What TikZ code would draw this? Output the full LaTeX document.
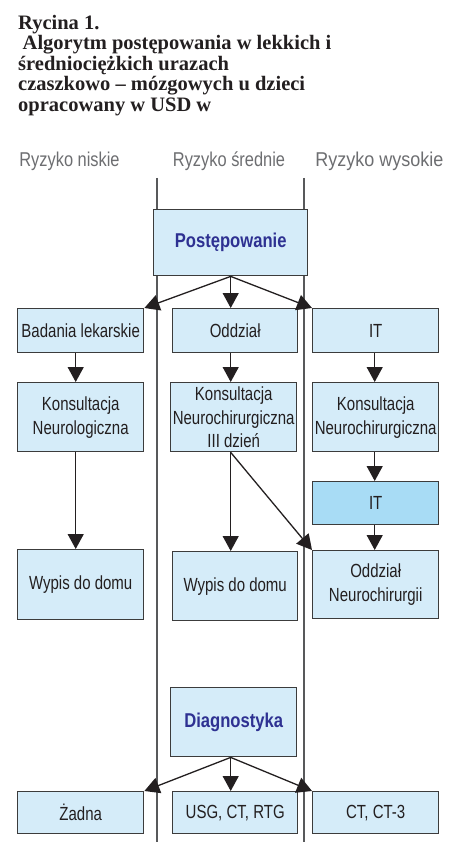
\documentclass[tikz,border=0pt]{standalone}
\usepackage{fontspec}
\setmainfont{Liberation Serif}
\newfontfamily\boxfont[FakeStretch=0.79]{Liberation Sans}
\newfontfamily\hdrfont[FakeStretch=0.82]{Liberation Sans}
\newfontfamily\hdrwidefont[FakeStretch=0.9]{Liberation Sans}
\newfontfamily\boldboxfont[FakeStretch=0.83]{Liberation Sans}
\usetikzlibrary{arrows.meta}
\definecolor{boxfill}{HTML}{D5ECF9}
\definecolor{boxfilldark}{HTML}{A8DCF5}
\definecolor{boxline}{HTML}{3C3C3C}
\definecolor{txt}{HTML}{231F20}
\definecolor{headblue}{HTML}{2E3192}
\definecolor{lanegray}{HTML}{58595B}
\definecolor{hdrgray}{HTML}{6D6E71}
\tikzset{
  box/.style={draw=boxline, line width=1.4pt, fill=boxfill, inner sep=0pt,
    anchor=north west, align=center, text=txt,
    font=\boxfont\fontsize{19}{24}\selectfont},
  headbox/.style={box, text=headblue, font=\boldboxfont\bfseries\fontsize{20}{24}\selectfont},
  conn/.style={draw=txt, line width=1.3pt, -{Triangle[length=15pt,width=16pt]}},
  lane/.style={draw=lanegray, line width=2pt},
  titleline/.style={anchor=base west, inner sep=0pt, text=txt,
    font=\bfseries\fontsize{20.5}{20.5}\selectfont},
  riskhdr/.style={anchor=base, inner sep=0pt, text=hdrgray,
    font=\hdrfont\fontsize{20}{24}\selectfont}
}
\begin{document}
\begin{tikzpicture}[x=1pt,y=-1pt]
\fill[white] (0,0) rectangle (452,842);
\useasboundingbox (0,0) rectangle (452,842);
% title
\node[titleline] (t1) at (18,29.5) {Rycina 1.};
\node[titleline] (t2) at (22.5,50) {Algorytm postępowania w lekkich i};
\node[titleline] (t3) at (18,70.5) {średniociężkich urazach};
\node[titleline] (t4) at (18,91) {czaszkowo – mózgowych u dzieci};
\node[titleline] (t5) at (18,111.5) {opracowany w USD w};
% risk headers
\node[riskhdr] (h1) at (69.5,167) {Ryzyko niskie};
\node[riskhdr] (h2) at (229,167) {Ryzyko średnie};
\node[riskhdr, font=\hdrwidefont\fontsize{20}{24}\selectfont] (h3) at (379.5,167) {Ryzyko wysokie};
% lanes
\coordinate (l1t) at (157,178); \coordinate (l1b) at (157,842);
\coordinate (l2t) at (303.5,178); \coordinate (l2b) at (303.5,842);
\draw[lane] (l1t) -- (l1b);
\draw[lane] (l2t) -- (l2b);
% boxes
\node[headbox, minimum width=154pt, minimum height=66pt] (post) at (153,209) {Postępowanie};
\node[box, minimum width=126pt, minimum height=44pt] (bad) at (17,308) {Badania lekarskie};
\node[box, minimum width=125pt, minimum height=44pt] (odd) at (172,308) {Oddział};
\node[box, minimum width=126pt, minimum height=44pt] (it1) at (312,308) {IT};
\node[box, minimum width=126pt, minimum height=69pt] (kn) at (17,382) {Konsultacja\\Neurologiczna};
\node[box, minimum width=126pt, minimum height=69pt] (knc) at (170,382) {Konsultacja\\Neurochirurgiczna\\[-1pt]III dzień};
\node[box, minimum width=126pt, minimum height=69pt] (knr) at (312,382) {Konsultacja\\Neurochirurgiczna};
\node[box, fill=boxfilldark, minimum width=126pt, minimum height=43pt] (it2) at (312,481) {IT};
\node[box, minimum width=126pt, minimum height=70pt] (w1) at (17,549) {Wypis do domu};
\node[box, minimum width=125pt, minimum height=69pt] (w2) at (172,551) {Wypis do domu};
\node[box, minimum width=126pt, minimum height=68pt] (on) at (312,550) {Oddział\\Neurochirurgii};
\node[headbox, minimum width=126pt, minimum height=69pt] (diag) at (170,687) {Diagnostyka};
\node[box, minimum width=126pt, minimum height=42pt] (zad) at (17,791) {Żadna};
\node[box, minimum width=125pt, minimum height=42pt] (usg) at (172,791) {USG, CT, RTG};
\node[box, minimum width=126pt, minimum height=42pt] (ct) at (312,791) {CT, CT-3};
% connectors
\draw[conn] (post.south) -- (bad.north east);
\draw[conn] (post.south) -- (post.south |- odd.north);
\draw[conn] (post.south) -- (it1.north west);
\draw[conn] ([xshift=-5pt]bad.south) -- ([xshift=-5pt]kn.north);
\draw[conn] (odd.south -| post.south) -- (knc.north -| post.south);
\draw[conn] ([xshift=-1pt]it1.south) -- ([xshift=-1pt]knr.north);
\draw[conn] ([xshift=-5pt]kn.south) -- ([xshift=-5pt]w1.north);
\draw[conn] (knc.south -| post.south) -- (w2.north -| post.south);
\draw[conn] (knc.south -| post.south) -- (on.north west);
\draw[conn] ([xshift=-1pt]knr.south) -- ([xshift=-1pt]it2.north);
\draw[conn] ([xshift=-1pt]it2.south) -- ([xshift=-1pt]on.north);
\draw[conn] (diag.south -| post.south) -- (zad.north east);
\draw[conn] (diag.south -| post.south) -- (usg.north -| post.south);
\draw[conn] (diag.south -| post.south) -- (ct.north west);
\end{tikzpicture}
\end{document}
